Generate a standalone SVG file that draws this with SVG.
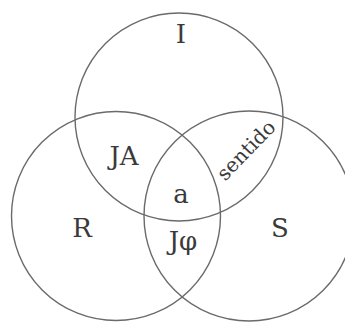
<svg xmlns="http://www.w3.org/2000/svg" width="345" height="323" viewBox="0 0 345 323">
<style>
.c{fill:none;stroke:#6a6a6a;stroke-width:1.4}
.t{font-family:"DejaVu Serif","Liberation Serif",serif;font-size:26px;fill:#3a3a3a;text-anchor:middle}
</style>
<rect width="345" height="323" fill="#fff"/>
<g id="connectors"></g>
<g id="circle-I"><circle class="c" cx="179" cy="117" r="104"/><text class="t" x="181" y="43">I</text></g>
<g id="circle-R"><circle class="c" cx="116" cy="216" r="104.5"/><text class="t" x="82" y="237">R</text></g>
<g id="circle-S"><circle class="c" cx="249" cy="216" r="105"/><text class="t" x="280" y="237">S</text></g>
<g id="label-JA"><text class="t" x="124" y="165">JA</text></g>
<g id="label-a"><text class="t" x="181" y="203">a</text></g>
<g id="label-Jphi"><text class="t" x="183" y="250">Jφ</text></g>
<g id="label-sentido"><text class="t" style="font-size:20px" x="251" y="155" transform="rotate(-46 251 155)">sentido</text></g>
</svg>
